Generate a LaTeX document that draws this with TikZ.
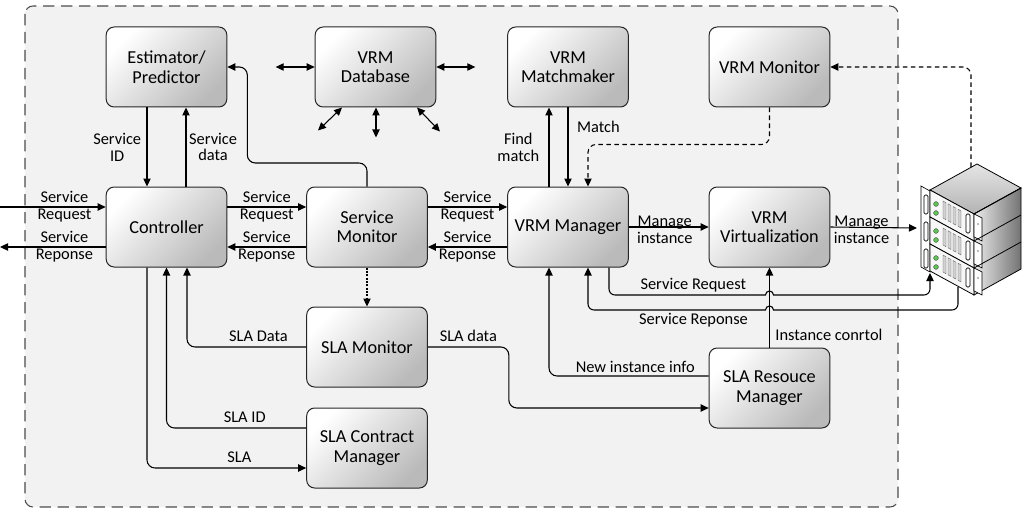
\documentclass[tikz,border=0pt]{standalone}
\usepackage{fontspec}
\setmainfont{Carlito}
\usepackage{xcolor}
\usepackage{tikz}
\usetikzlibrary{shapes,arrows,positioning,calc,arrows.meta}
\definecolor{led}{RGB}{90,200,80}

\begin{document}
\begin{tikzpicture}[x=0.75pt,y=-0.75pt,
    block/.style={draw=black!85, line width=0.75pt, rounded corners=6pt,
        top color=white, bottom color=black!27, shading angle=45,
        minimum width=90.5pt, minimum height=60pt, align=center, inner sep=2pt,
        font=\fontsize{13.7}{14.6}\selectfont},
    lbl/.style={align=center, inner sep=1pt, font=\fontsize{12.3}{12.6}\selectfont},
    arr/.style={-{Triangle[length=6pt,width=5.5pt]}, line width=0.8pt, rounded corners=6pt},
    dbl/.style={{Triangle[length=6pt,width=5.5pt]}-{Triangle[length=6pt,width=5.5pt]}, line width=0.8pt},
    dsh/.style={arr, dash pattern=on 3.5pt off 2.5pt},
    dot/.style={arr, dash pattern=on 1.5pt off 1pt}]
    \useasboundingbox (0,0) rectangle (1022,510);

    % VRM frame
    \draw[black!70, line width=0.8pt, fill=black!5, dash pattern=on 8.5pt off 5pt, rounded corners=6pt]
        (25,6) rectangle (898,507);

    % server stack
    \coordinate (sL) at (930,190);
    \coordinate (sT) at (977,164);
    \coordinate (sR) at (1021,188);
    \coordinate (sF) at (974,214);
    \shade[top color=black!10, bottom color=black!30, draw=black, line width=0.6pt]
        (sL) -- (sT) -- (sR) -- (sF) -- cycle;
    \shade[left color=black!8, right color=black!55, draw=black, line width=0.6pt]
        (sF) -- (sR) -- ($(sR)+(0,81)$) -- ($(sF)+(0,81)$) -- cycle;
    \filldraw[fill=white, line width=0.5pt] (921,186) -- (930,191) -- (930,272) -- (921,267) -- cycle;
    \foreach \k in {0,27,54} {
        \draw[line width=0.6pt] ($(sF)+(0,\k)$) -- ($(sR)+(0,\k)$);
        \filldraw[fill=black!3, line width=0.6pt] ($(sL)+(0,\k)$) -- ($(sF)+(0,\k)$)
            -- ($(sF)+(0,\k+27)$) -- ($(sL)+(0,\k+27)$) -- cycle;
        % slots
        \foreach \j in {0,...,3} {
            \pgfmathsetmacro\sx{943+5*\j}
            \pgfmathsetmacro\sy{190+(\sx-930)*24/44+4+\k}
            \filldraw[fill=black!18, draw=black!60, line width=0.3pt]
                (\sx,\sy) -- ++(3,1.6) -- ++(0,17) -- ++(-3,-1.6) -- cycle;
        }
        % leds
        \filldraw[fill=led, draw=black!70, line width=0.3pt]
            (936,204+\k) circle[radius=1.8pt] (936,213+\k) circle[radius=1.8pt];
        % handles
        \filldraw[fill=white, line width=0.5pt, rounded corners=1pt] (924,195+\k) rectangle (928,214+\k);
        \filldraw[fill=white, line width=0.5pt] ($(sF)+(0,\k)$) -- ++(8,4) -- ++(0,23) -- ++(-8,-4) -- cycle;
        \fill[black!35] (978,224+\k) circle[radius=0.8pt];
        \filldraw[fill=white, line width=0.5pt, rounded corners=1pt] (966,214+\k) rectangle (970,233+\k);
    }
    \coordinate (srvtop) at (971,167);
    \coordinate (srvin) at (917,228);
    \coordinate (srvreq) at (930,273);
    \coordinate (srvrsp) at (958,287);

    % blocks
    \node[block] (est) at (166.5,67) {Estimator/\\Predictor};
    \node[block] (db) at (375.5,67) {VRM\\Database};
    \node[block] (match) at (568,67) {VRM\\Matchmaker};
    \node[block] (vmon) at (769.5,67) {VRM Monitor};
    \node[block] (ctrl) at (166.5,227) {Controller};
    \node[block] (smon) at (367,227) {Service\\Monitor};
    \node[block] (mgr) at (568,227) {VRM Manager};
    \node[block] (virt) at (769.5,227) {VRM\\Virtualization};
    \node[block] (slamon) at (367,347) {SLA Monitor};
    \node[block] (slacon) at (367,448) {SLA Contract\\Manager};
    \node[block] (slares) at (769.5,388) {SLA Resouce\\Manager};

    % request / response chain
    \coordinate (in) at (0,207);
    \coordinate (out) at (0,247);
    \draw[arr] (in) -- node[lbl,pos=.61] {Service\\Request} ($(ctrl.west)+(0,-20)$);
    \draw[arr] ($(ctrl.west)+(0,20)$) -- node[lbl,pos=.39] {Service\\Reponse} (out);
    \draw[arr] ($(ctrl.east)+(0,-20)$) -- node[lbl] {Service\\Request} ($(smon.west)+(0,-20)$);
    \draw[arr] ($(smon.west)+(0,20)$) -- node[lbl] {Service\\Reponse} ($(ctrl.east)+(0,20)$);
    \draw[arr] ($(smon.east)+(0,-20)$) -- node[lbl] {Service\\Request} ($(mgr.west)+(0,-20)$);
    \draw[arr] ($(mgr.west)+(0,20)$) -- node[lbl] {Service\\Reponse} ($(smon.east)+(0,20)$);

    % estimator
    \draw[arr] ($(est.south)+(-19.5,0)$) -- node[lbl,left=3pt] {Service\\ID} ($(ctrl.north)+(-19.5,0)$);
    \draw[arr] ($(ctrl.north)+(19.5,0)$) -- node[lbl,right=1pt] {Service\\data} ($(est.south)+(19.5,0)$);
    \draw[arr] (smon.north) |- ($(est.east)+(20,96)$) |- (est.east);

    % database
    \draw[dbl] (db.west) -- ++(-39,0);
    \draw[dbl] (db.east) -- ++(39,0);
    \draw[dbl] ($(db.south)+(-33.5,0)$) -- ++(-24,23);
    \draw[dbl] ($(db.south)+(0.5,0)$) -- ++(0,30);
    \draw[dbl] ($(db.south)+(41.5,0)$) -- ++(23,24);

    % matchmaker and monitors
    \draw[arr] ($(mgr.north)+(-19,0)$) -- node[lbl,left=6pt] {Find\\match} ($(match.south)+(-19,0)$);
    \draw[arr] (match.south) -- node[lbl,right=5.5pt,pos=.24] {Match} (mgr.north);
    \draw[dsh] (vmon.south) |- ($(mgr.north)+(20,-42)$) -- ($(mgr.north)+(20,0)$);
    \draw[dsh] (srvtop) |- (vmon.east);
    \draw[dot] (smon.south) -- (slamon.north);

    % virtualization
    \draw[arr] (mgr.east) -- node[lbl,pos=.45,yshift=-2pt] {Manage\\instance} (virt.west);
    \draw[arr] (virt.east) -- node[lbl,pos=.36,yshift=-2pt] {Manage\\instance} (srvin);
    \draw[arr] (slares.north) -- node[lbl,right=3pt,pos=.16] {Instance conrtol} (virt.south);
    \draw[arr, sharp corners] ($(mgr.south)+(41,0)$) -- (609,289) arc[start angle=180,end angle=270,radius=4.5pt]
        -- node[lbl,above=0.5pt,pos=.52] {Service Request} (765.5,295)
        arc[start angle=180,end angle=0,radius=3pt] -- (924,295)
        arc[start angle=270,end angle=360,radius=4.5pt] -- (srvreq);
    \draw[arr, sharp corners] (srvrsp) -- (958,304) arc[start angle=0,end angle=-90,radius=4.5pt]
        -- (773.5,310) arc[start angle=0,end angle=180,radius=3pt]
        -- node[lbl,below=1pt,pos=.42] {Service Reponse} (594,310)
        arc[start angle=270,end angle=180,radius=4.5pt] -- ($(mgr.south)+(20,0)$);
    \draw[arr] ($(slares.west)+(0,-12)$) -| node[lbl,above=1.5pt,pos=.23] {New instance info} ($(mgr.south)+(-19,0)$);

    % SLA part
    \draw[arr] (slamon.east) -- node[lbl,above=2.5pt] {SLA data} ++(81,0) |- ($(slares.west)+(0,20)$);
    \draw[arr] (slamon.west) -| node[lbl,above=2.5pt,pos=.2] {SLA Data} ($(ctrl.south)+(20.5,0)$);
    \draw[arr] ($(slacon.west)+(0,-20)$) -| node[lbl,above=2.5pt,pos=.22] {SLA ID} (ctrl.south);
    \draw[arr] ($(ctrl.south)+(-19.5,0)$) |- node[lbl,above=3pt,pos=.79] {SLA} ($(slacon.west)+(0,20)$);
\end{tikzpicture}
\end{document}
